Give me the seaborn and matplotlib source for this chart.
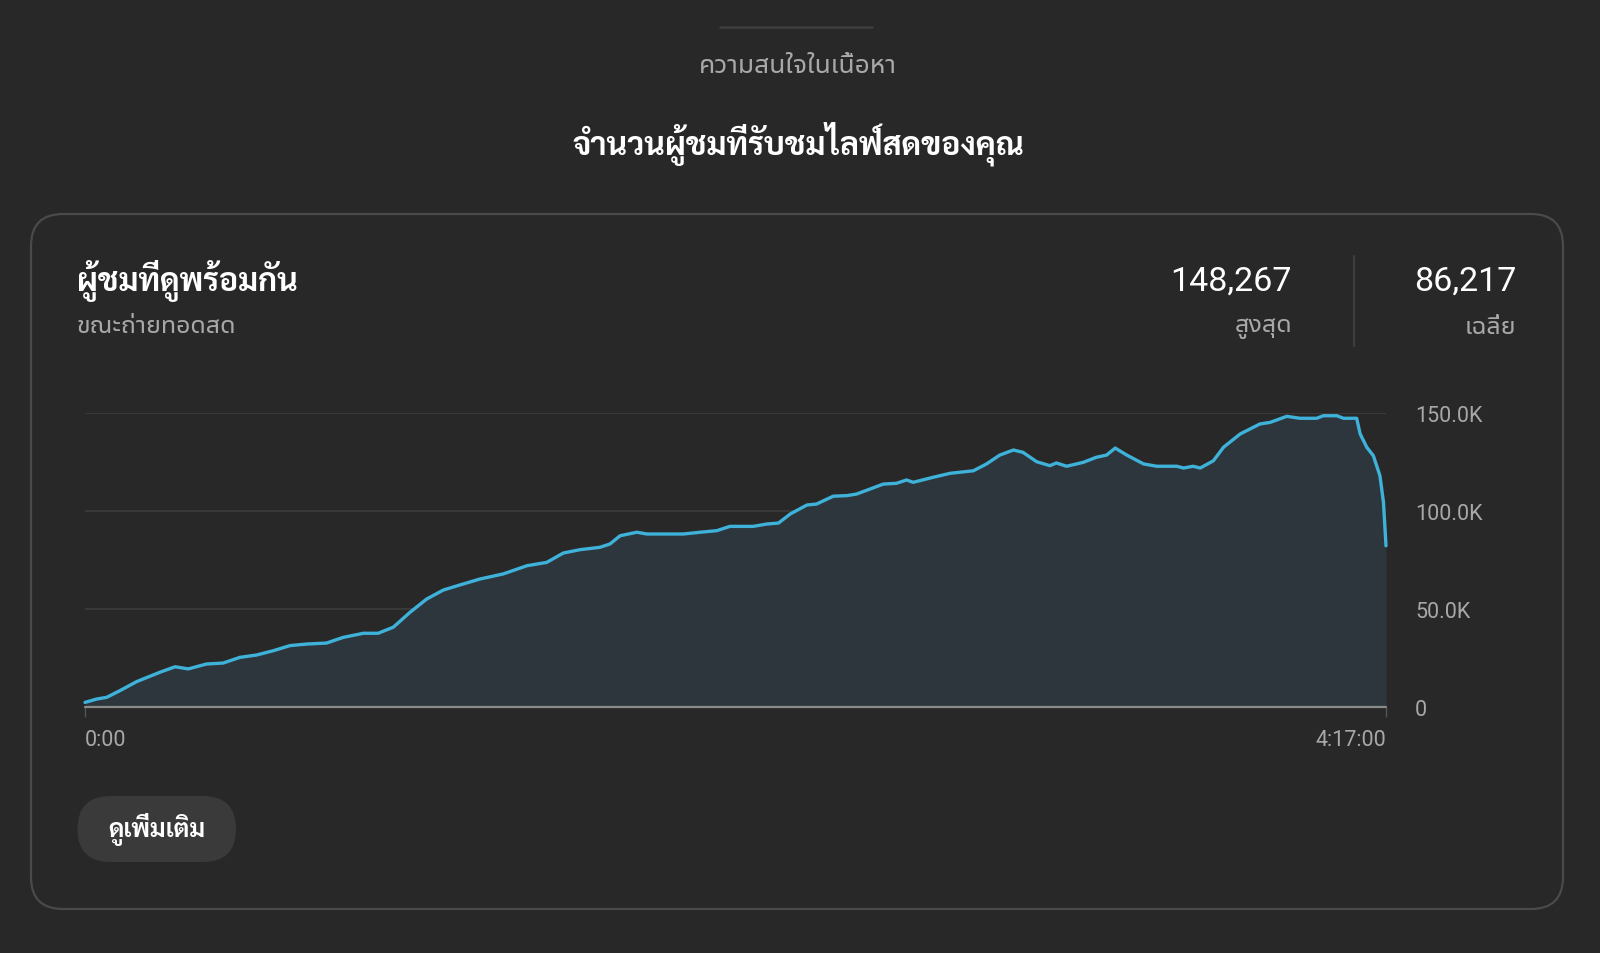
import matplotlib
matplotlib.use("Agg")
import numpy as np
import pandas as pd
import seaborn as sns
import matplotlib.pyplot as plt
from matplotlib import font_manager as fm
from matplotlib.patches import FancyBboxPatch
from matplotlib.lines import Line2D

# concurrent viewers during the live stream (minutes from start, thousands)
minutes = [0, 2.3, 4.3, 6.9, 10.2, 14.8, 17.8, 20.4, 24.0, 27.3, 30.6, 33.9,
           37.2, 40.5, 43.8, 47.7, 51.0, 55.0, 57.9, 60.9, 64.2, 67.5, 70.8,
           74.1, 78.0, 82.6, 87.3, 91.2, 94.5, 97.8, 101.7, 103.7, 105.7,
           109.0, 111.0, 118.2, 121.5, 124.8, 127.4, 132.0, 134.7, 137.0,
           139.3, 142.6, 144.5, 147.8, 150.5, 152.4, 157.7, 160.3, 162.3,
           163.6, 167.6, 170.9, 175.5, 178.1, 180.7, 183.4, 185.3, 188.0,
           190.6, 191.9, 193.9, 197.2, 199.8, 201.8, 203.5, 205.8, 209.1,
           211.7, 215.7, 217.0, 218.9, 220.3, 222.9, 224.9, 228.2, 232.1,
           234.1, 237.4, 240.0, 243.3, 244.6, 247.3, 248.6, 251.2, 251.9,
           253.2, 254.5, 255.8, 256.5, 257.0]
viewers_k = [2.2, 3.9, 4.8, 8.2, 12.8, 17.6, 20.4, 19.3, 21.8, 22.3, 25.2, 26.4,
             28.6, 31.2, 32.0, 32.5, 35.4, 37.5, 37.5, 40.6, 48.2, 55.0, 59.6,
             62.2, 65.2, 67.8, 72.0, 73.7, 78.5, 80.2, 81.4, 83.1, 87.3,
             89.1, 88.2, 88.2, 89.1, 89.9, 92.1, 92.1, 93.3, 93.8,
             98.4, 103.0, 103.5, 107.5, 107.8, 108.6, 113.7, 114.1, 115.8,
             114.6, 117.2, 119.2, 120.5, 124.0, 128.5, 131.1, 129.9, 125.1,
             123.1, 124.5, 122.8, 124.8, 127.4, 128.5, 132.1, 128.5, 124.0,
             122.8, 122.8, 121.9, 122.8, 121.9, 125.6, 132.5, 139.3, 144.4,
             145.2, 148.3, 147.3, 147.3, 148.6, 148.6, 147.3, 147.3, 139.3,
             132.5, 128.2, 118.0, 104.4, 82.2]

y_ticks = [0, 50, 100, 150]
y_labels = ["0", "50.0K", "100.0K", "150.0K"]
x_ticks = [0, 257]
x_labels = ["0:00", "4:17:00"]

section_label = "ความสนใจในเนื้อหา"
title = "จำนวนผู้ชมที่รับชมไลฟ์สดของคุณ"
card_title = "ผู้ชมที่ดูพร้อมกัน"
card_sub = "ขณะถ่ายทอดสด"
stats = [("148,267", "สูงสุด"), ("86,217", "เฉลี่ย")]
button_text = "ดูเพิ่มเติม"

df = pd.DataFrame({"minute": minutes, "viewers": viewers_k})

BG = "#282828"
LINE = "#3fb2da"
FILL = "#2c363c"
GREY = "#a8a8a8"

sns.set_theme(style="dark")
prefs = ["Noto Sans Thai UI", "Noto Sans Thai", "Sarabun", "IBM Plex Sans Thai",
         "Prompt", "Kanit", "Loma"]
fonts = fm.fontManager.ttflist
names = {f.name for f in fonts}
thai = next((f for f in prefs if f in names), "DejaVu Sans")
thai_bold = next((f for f in prefs
                  if any(t.name == f and t.weight in (700, "bold") for t in fonts)), thai)
plt.rcParams["font.family"] = ["Roboto", thai, "DejaVu Sans"]
REG = ["Roboto", thai, "DejaVu Sans"]
BOLD = ["Roboto", thai_bold, "DejaVu Sans"]

W, H = 1600, 954
fig = plt.figure(figsize=(W / 100, H / 100), dpi=100, facecolor=BG)


def px(x, y):
    return x / W, 1 - y / H


def text(x, y, s, bold=False, **kw):
    fig.text(*px(x, y), s, family=BOLD if bold else REG,
             fontweight="bold" if bold else "normal", **kw)


# small divider at the top
fig.add_artist(Line2D([720 / W, 872 / W], [1 - 27.5 / H] * 2, color="#3e3e3e", lw=1.8))
text(798, 66, section_label, color=GREY, fontsize=19, ha="center", va="center")
text(798, 144, title, bold=True, color="white", fontsize=23, ha="center", va="center")

# card
inch = fig.dpi_scale_trans
card = FancyBboxPatch((31 / 100, (H - 910) / 100), (1563 - 31) / 100, (910 - 215) / 100,
                      boxstyle="round,pad=0,rounding_size=0.32", transform=inch,
                      facecolor="none", edgecolor="#4a4a4a", lw=1.6, zorder=-1)
fig.add_artist(card)

text(77, 281, card_title, bold=True, color="white", fontsize=23, ha="left", va="center")
text(77, 326, card_sub, color=GREY, fontsize=18, ha="left", va="center")

for (val, lab), xr in zip(stats, [1292, 1516]):
    text(xr, 282, val, color="white", fontsize=24.5, ha="right", va="center")
    text(xr, 327, lab, color=GREY, fontsize=18, ha="right", va="center")
fig.add_artist(Line2D([1354 / W] * 2, [1 - 257 / H, 1 - 347 / H], color="#3e3e3e", lw=1.5))

# button
btn = FancyBboxPatch((77.5 / 100, (H - 863) / 100), (236 - 77.5) / 100, (863 - 797) / 100,
                     boxstyle="round,pad=0,rounding_size=0.33", transform=inch,
                     facecolor="#3a3a3a", edgecolor="none", zorder=-1)
fig.add_artist(btn)
text(157, 830, button_text, bold=True, color="white", fontsize=18, ha="center", va="center")

# chart
x0, x1, yb, yt = 85, 1386, 707.7, 414
ax = fig.add_axes([x0 / W, (H - yb) / H, (x1 - x0) / W, (yb - yt) / H])
ax.set_facecolor("none")
ax.fill_between(df["minute"], df["viewers"], 0, color=FILL, lw=0, zorder=1)
for v in y_ticks[1:]:
    ax.axhline(v, color="#3d3d3d", lw=1.2, zorder=0)
sns.lineplot(data=df, x="minute", y="viewers", ax=ax, color=LINE, lw=2.4, zorder=3)
for l in ax.lines[-1:]:
    l.set_clip_on(False)
    l.set_solid_joinstyle("round")
ax.axhline(0, color="#8a8a8a", lw=1.6, zorder=4, clip_on=False)

ax.set_xlim(0, 257)
ax.set_ylim(0, 150)
for s in ax.spines.values():
    s.set_visible(False)
ax.grid(False)
ax.set_xlabel("")
ax.set_ylabel("")

ax.yaxis.tick_right()
ax.set_yticks(y_ticks, y_labels)
ax.tick_params(axis="y", length=0, pad=21, labelsize=15.5, labelcolor=GREY)
for lab in ax.get_yticklabels():
    lab.set_ha("left")

ax.set_xticks(x_ticks, x_labels)
ax.tick_params(axis="x", length=7, width=1, color="#555555", pad=9,
               labelsize=15.5, labelcolor=GREY, bottom=True)
xl = ax.get_xticklabels()
xl[0].set_ha("left")
xl[1].set_ha("right")

fig.savefig("out.png", dpi=100, facecolor=BG)
